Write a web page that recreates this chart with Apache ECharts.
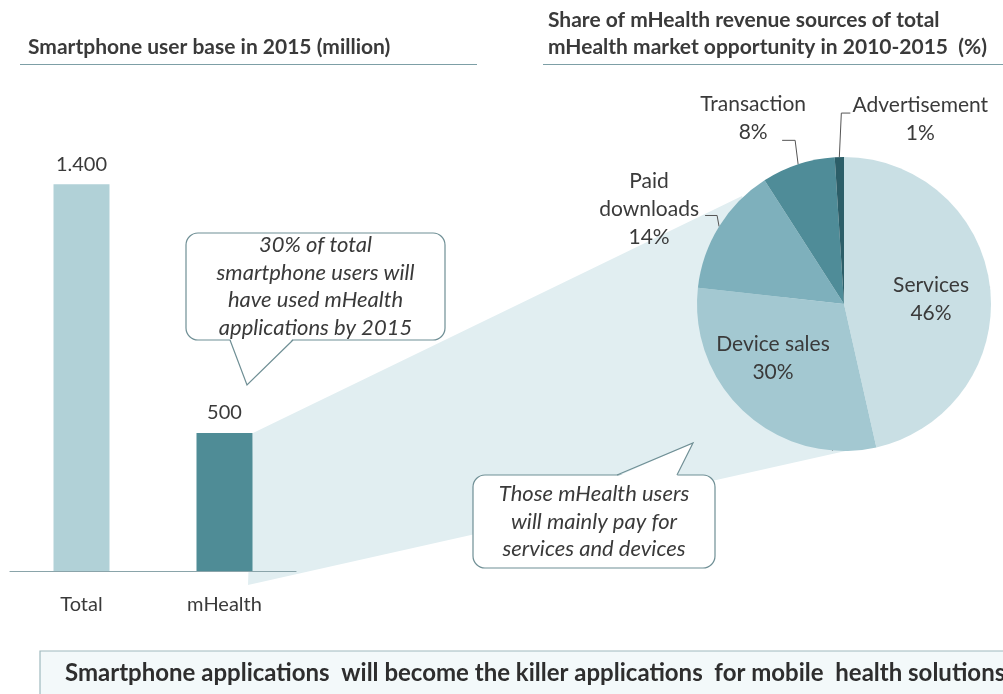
<!DOCTYPE html>
<html>
<head>
<meta charset="utf-8">
<script src="https://cdn.jsdelivr.net/npm/echarts@6/dist/echarts.min.js"></script>
<style>
  html, body { margin: 0; padding: 0; background: #fff; }
  #chart { width: 1003px; height: 694px; }
</style>
</head>
<body>
<div id="chart"></div>
<script>
// bar chart: smartphone users 2015 (million)
const barCategories = ['Total', 'mHealth'];
const barValues = [1400, 500];
const barColors = ['#b1d1d7', '#4f8c96'];

// pie: share of mHealth revenue sources 2010-2015 (%)
const pieNames = ['Services', 'Device sales', 'Paid downloads', 'Transaction', 'Advertisement'];
const pieLabels = ['Services', 'Device sales', 'Paid\ndownloads', 'Transaction', 'Advertisement'];
const pieValues = [46, 30, 14, 8, 1];
const pieColors = ['#c9dfe4', '#a3c8d1', '#7eb0bc', '#4f8c98', '#2c5e68'];

const FONT = 'Lato, "Open Sans", sans-serif';
const TXT = '#3a3a3a';
const LINE = '#7d9fa6';
const BOX = '#6f8f95';

function dots(v) {
  return String(v).replace(/\B(?=(\d{3})+(?!\d))/g, '.');
}

// label placement relative to the default spot (inside labels) or slice edge (outside ones)
const insideShift = { 0: [11, 4], 1: [-20, -3] };
const outsideCfg = {
  2: { c: [-70, -17], bend: [-2, -11], end: [-14, -11] },
  3: { c: [-45, -46], bend: [-3, -24], end: [-16, -24] },
  4: { c: [81, -38], bend: [2, -44], end: [11, -44] }
};

let chart = echarts.init(document.getElementById('chart'));

function callout(x, y, w, h, tail, lines, lineH) {
  // tail = [baseLeftX, tipX, tipY, baseRightX], base on top or bottom edge
  let baseY = tail[2] > y + h ? y + h : y;
  let inset = tail[2] > y + h ? -1.5 : 1.5;
  let els = [
    { type: 'rect', z: 50, shape: { x: x, y: y, width: w, height: h, r: 12 },
      style: { fill: '#fff', stroke: BOX, lineWidth: 1.2 } },
    { type: 'polygon', z: 51,
      shape: { points: [[tail[0], baseY + inset], [tail[1], tail[2]], [tail[3], baseY + inset]] },
      style: { fill: '#fff', stroke: null } },
    { type: 'polyline', z: 52,
      shape: { points: [[tail[0], baseY], [tail[1], tail[2]], [tail[3], baseY]] },
      style: { stroke: BOX, lineWidth: 1.2, fill: null } }
  ];
  let cy = y + h / 2 - (lines.length - 1) * lineH / 2;
  lines.forEach(function (t, i) {
    els.push({ type: 'text', z: 53, x: x + w / 2, y: cy + i * lineH,
      style: { text: t, fill: TXT, font: 'italic 22px ' + FONT, align: 'center', verticalAlign: 'middle' } });
  });
  return els;
}

let graphics = [
  // titles + underlines
  { type: 'text', x: 28, y: 47, style: { text: 'Smartphone user base in 2015 (million)', fill: TXT, font: 'bold 21px ' + FONT, verticalAlign: 'middle' } },
  { type: 'line', shape: { x1: 20, y1: 64.5, x2: 477, y2: 64.5 }, style: { stroke: LINE, lineWidth: 1.2 } },
  { type: 'text', x: 548, y: 34, style: { text: 'Share of mHealth revenue sources of total\nmHealth market opportunity in 2010-2015  (%)', fill: TXT, font: 'bold 21px ' + FONT, lineHeight: 27, verticalAlign: 'middle' } },
  { type: 'line', shape: { x1: 543, y1: 64.5, x2: 1003, y2: 64.5 }, style: { stroke: LINE, lineWidth: 1.2 } },
  // zoom wedge from the mHealth bar to the pie
  { type: 'polygon', z: 0, shape: { points: [[253, 433], [742, 196], [850, 450], [248, 585]] },
    style: { fill: '#e1eef1' } },
  // bottom message box
  { type: 'rect', z: 5, shape: { x: 40, y: 651, width: 1000, height: 60 },
    style: { fill: '#f3f9fa', stroke: '#9fb9be', lineWidth: 1.2 } },
  { type: 'text', z: 6, x: 65, y: 673,
    style: { text: 'Smartphone applications  will become the killer applications  for mobile  health solutions', fill: '#2e2e2e', font: 'bold 24px ' + FONT, verticalAlign: 'middle' } }
];
graphics = graphics.concat(
  callout(186, 233, 259, 107, [230, 247, 385, 293],
    ['30% of total', 'smartphone users will', 'have used mHealth', 'applications by 2015'], 27.5),
  callout(473, 475, 242, 93, [617, 693, 443, 677],
    ['Those mHealth users', 'will mainly pay for', 'services and devices'], 27.5)
);

chart.setOption({
  backgroundColor: '#fff',
  animation: false,
  textStyle: { fontFamily: FONT },
  grid: { left: 10, width: 286, top: 129, bottom: 123 },
  xAxis: {
    type: 'category',
    data: barCategories,
    axisLine: { lineStyle: { color: '#8aa4aa', width: 1.2 } },
    axisTick: { show: false },
    axisLabel: { color: TXT, fontSize: 20, margin: 24 }
  },
  yAxis: { type: 'value', min: 0, max: 1600, show: false, splitLine: { show: false } },
  graphic: graphics,
  series: [
    {
      type: 'bar',
      barWidth: 56,
      z: 3,
      data: barValues.map(function (v, i) { return { value: v, itemStyle: { color: barColors[i] } }; }),
      label: { show: true, position: 'top', distance: 10, color: TXT, fontSize: 20,
        formatter: function (p) { return dots(p.value); } }
    },
    {
      type: 'pie',
      center: [844, 304],
      radius: 147,
      startAngle: 90,
      z: 3,
      data: pieNames.map(function (n, i) {
        return {
          name: n, value: pieValues[i],
          itemStyle: { color: pieColors[i] },
          label: { position: i < 2 ? 'inside' : 'outside' }
        };
      }),
      label: {
        color: TXT, fontSize: 21, lineHeight: 28, align: 'center',
        formatter: function (p) { return pieLabels[p.dataIndex] + '\n' + p.value + '%'; }
      },
      labelLine: { show: true, length: 20, length2: 10, smooth: false, lineStyle: { color: '#555', width: 1 } },
      labelLayout: function (params) {
        let r = params.labelRect;
        let i = params.dataIndex;
        if (insideShift[i]) {
          return { x: r.x + r.width / 2 + insideShift[i][0], y: r.y + r.height / 2 + insideShift[i][1],
            align: 'center', verticalAlign: 'middle' };
        }
        let cfg = outsideCfg[i];
        let p0 = params.labelLinePoints[0];
        return {
          x: p0[0] + cfg.c[0], y: p0[1] + cfg.c[1], align: 'center', verticalAlign: 'middle',
          labelLinePoints: [p0, [p0[0] + cfg.bend[0], p0[1] + cfg.bend[1]], [p0[0] + cfg.end[0], p0[1] + cfg.end[1]]]
        };
      }
    }
  ]
});
</script>
</body>
</html>
